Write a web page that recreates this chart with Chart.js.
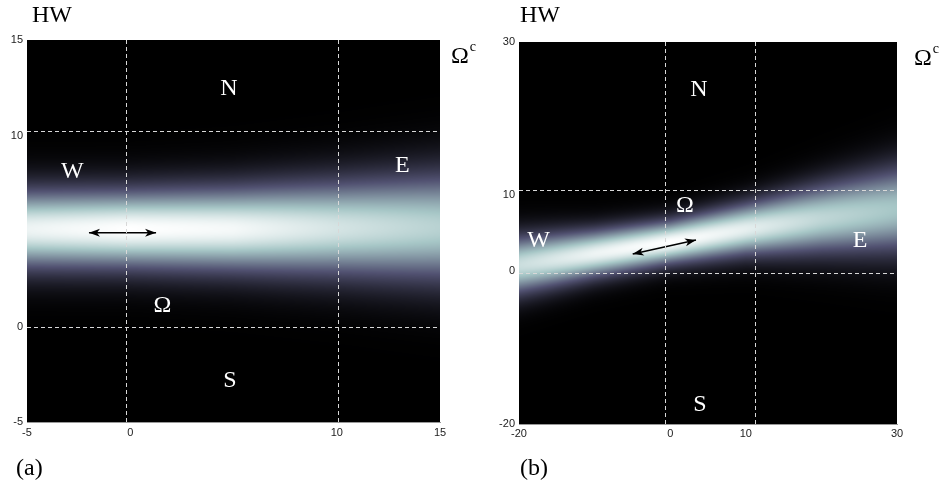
<!DOCTYPE html>
<html>
<head>
<meta charset="utf-8">
<script src="https://cdn.jsdelivr.net/npm/chart.js@4.4.1/dist/chart.umd.min.js"></script>
<style>
  body { margin: 0; background: #fff; width: 940px; height: 486px; position: relative; overflow: hidden; }
  .panel { position: absolute; top: 0; width: 470px; height: 486px; }
  .lbl { position: absolute; font-family: "Liberation Serif", "Times New Roman", serif; font-size: 24px; line-height: 24px; color: #000; white-space: nowrap; }
  .lbl sup { font-size: 14px; position: relative; top: -3px; margin-left: 1px; }
</style>
</head>
<body>
<div class="panel" style="left:0"><canvas id="chartA" width="470" height="486"></canvas></div>
<div class="panel" style="left:470px"><canvas id="chartB" width="470" height="486"></canvas></div>
<div class="lbl" style="left:32px;top:2px">HW</div>
<div class="lbl" style="left:520px;top:2px">HW</div>
<div class="lbl" style="left:451px;top:38px">Ω<sup>c</sup></div>
<div class="lbl" style="left:914px;top:40px">Ω<sup>c</sup></div>
<div class="lbl" style="left:16px;top:455px">(a)</div>
<div class="lbl" style="left:520px;top:455px">(b)</div>
<script>
// ---- panel (a) ----
const ticksA = [-5, 0, 10, 15];
const bandXA = [-5, 0, 5, 10, 15];
const bandCenterA = [5.1, 5.1, 5.1, 5.15, 5.2];
const bandWidthA = [1.45, 1.45, 1.55, 1.75, 2.0];
const bandPeakA = [0.95, 1.0, 0.97, 0.88, 0.8];
const splitXA = [-0.2, 10.05];
const splitYA = [0, 10.25];
const arrowXA = [-2.0, 1.25];
const arrowYA = [4.91, 4.91];
const regionNames = ['N', 'S', 'W', 'E', 'Ω'];
const regionXA = [4.78, 4.83, -2.8, 13.18, 1.56];
const regionYA = [12.51, -2.78, 8.14, 8.48, 1.13];

// ---- panel (b) ----
const ticksB = [-20, 0, 10, 30];
const bandXB = [-20, -10, 0, 10, 20, 30];
const bandCenterB = [0.8, 2.3, 3.8, 5.5, 6.9, 8.1];
const bandWidthB = [2.7, 2.2, 2.0, 2.4, 3.2, 4.0];
const bandPeakB = [0.85, 0.95, 1.0, 0.93, 0.82, 0.75];
const splitXB = [-0.7, 11.2];
const splitYB = [-0.25, 10.6];
const arrowXB = [-4.96, 3.41];
const arrowYB = [2.25, 4.08];
const regionXB = [3.81, 3.94, -17.4, 25.1, 1.96];
const regionYB = [23.9, -17.3, 4.08, 4.08, 8.73];

// matlab "bone" colour map
function bone(v) {
  v = Math.max(0, Math.min(1, v));
  const st = [[0, 0, 0, 0], [0.375, 0.319, 0.319, 0.444], [0.75, 0.653, 0.778, 0.778], [1, 1, 1, 1]];
  for (let i = 1; i < st.length; i++) {
    if (v <= st[i][0]) {
      const a = st[i - 1], b = st[i], t = (v - a[0]) / (b[0] - a[0]);
      return [0, 1, 2].map(k => Math.round(255 * (a[k + 1] + t * (b[k + 1] - a[k + 1]))));
    }
  }
  return [255, 255, 255];
}

function valueAt(xs, ys, x) {
  if (x <= xs[0]) return ys[0];
  for (let i = 1; i < xs.length; i++) {
    if (x <= xs[i]) {
      const t = (x - xs[i - 1]) / (xs[i] - xs[i - 1]);
      return ys[i - 1] + t * (ys[i] - ys[i - 1]);
    }
  }
  return ys[ys.length - 1];
}

function fieldPlugin(p) {
  return {
    id: 'field',
    beforeDatasetsDraw(chart) {
      const ctx = chart.ctx, a = chart.chartArea;
      const xs = chart.scales.x, ys = chart.scales.y;
      const left = Math.round(a.left), top = Math.round(a.top);
      const w = Math.round(a.right) - left, h = Math.round(a.bottom) - top;
      const img = ctx.createImageData(w, h);
      for (let i = 0; i < w; i++) {
        const xv = xs.getValueForPixel(left + i + 0.5);
        const c = valueAt(p.bandX, p.center, xv);
        const s = valueAt(p.bandX, p.width, xv);
        const pk = valueAt(p.bandX, p.peak, xv);
        for (let j = 0; j < h; j++) {
          const yv = ys.getValueForPixel(top + j + 0.5);
          const d = (yv - c) / s;
          const col = bone(pk * Math.exp(-d * d / 2));
          const k = (j * w + i) * 4;
          img.data[k] = col[0]; img.data[k + 1] = col[1]; img.data[k + 2] = col[2]; img.data[k + 3] = 255;
        }
      }
      ctx.putImageData(img, left, top);
    },
    afterDatasetsDraw(chart) {
      const ctx = chart.ctx, a = chart.chartArea;
      const xs = chart.scales.x, ys = chart.scales.y;
      ctx.save();
      // dashed region borders
      ctx.strokeStyle = '#d8d8d8';
      ctx.lineWidth = 1;
      ctx.setLineDash([4, 3]);
      p.splitX.forEach(v => {
        const x = Math.round(xs.getPixelForValue(v)) + 0.5;
        ctx.beginPath(); ctx.moveTo(x, a.top); ctx.lineTo(x, a.bottom); ctx.stroke();
      });
      p.splitY.forEach(v => {
        const y = Math.round(ys.getPixelForValue(v)) + 0.5;
        ctx.beginPath(); ctx.moveTo(a.left, y); ctx.lineTo(a.right, y); ctx.stroke();
      });
      ctx.setLineDash([]);
      // arrow heads
      const x1 = xs.getPixelForValue(p.arrowX[0]), y1 = ys.getPixelForValue(p.arrowY[0]);
      const x2 = xs.getPixelForValue(p.arrowX[1]), y2 = ys.getPixelForValue(p.arrowY[1]);
      const head = (tx, ty, ang) => {
        ctx.save();
        ctx.translate(tx, ty); ctx.rotate(ang);
        ctx.beginPath();
        ctx.moveTo(0, 0); ctx.lineTo(-11, -4); ctx.lineTo(-8, 0); ctx.lineTo(-11, 4);
        ctx.closePath();
        ctx.fillStyle = '#000'; ctx.fill();
        ctx.restore();
      };
      const ang = Math.atan2(y2 - y1, x2 - x1);
      head(x2, y2, ang);
      head(x1, y1, ang + Math.PI);
      // region names
      ctx.fillStyle = '#fff';
      ctx.font = '24px "Liberation Serif", "Times New Roman", serif';
      ctx.textAlign = 'center';
      ctx.textBaseline = 'middle';
      regionNames.forEach((n, i) => {
        ctx.fillText(n, xs.getPixelForValue(p.regionX[i]), ys.getPixelForValue(p.regionY[i]) + 1);
      });
      ctx.restore();
    }
  };
}

function makeChart(id, p) {
  const tickFont = { family: '"Liberation Sans", Arial, sans-serif', size: 11 };
  return new Chart(document.getElementById(id), {
    type: 'scatter',
    data: {
      datasets: [{
        data: p.arrowX.map((x, i) => ({ x: x, y: p.arrowY[i] })),
        showLine: true,
        borderColor: '#000',
        borderWidth: 1.5,
        pointRadius: 0
      }]
    },
    options: {
      responsive: false,
      animation: false,
      devicePixelRatio: 1,
      layout: { padding: { top: p.pad.top, right: p.pad.right, left: 0, bottom: 0 } },
      plugins: { legend: { display: false }, tooltip: { enabled: false } },
      scales: {
        x: {
          type: 'linear', min: p.range[0], max: p.range[1],
          afterBuildTicks: s => { s.ticks = p.ticks.map(v => ({ value: v })); },
          afterFit: s => { s.height = p.xh; },
          grid: { display: false, drawTicks: false },
          border: { display: true, color: '#999', width: 1 },
          ticks: { font: tickFont, color: '#222', padding: p.xpad, maxRotation: 0, autoSkip: false }
        },
        y: {
          type: 'linear', min: p.range[0], max: p.range[1],
          afterBuildTicks: s => { s.ticks = p.ticks.map(v => ({ value: v })); },
          afterFit: s => { s.width = p.yw; },
          grid: { display: false, drawTicks: false },
          border: { display: true, color: '#999', width: 1 },
          ticks: { font: tickFont, color: '#222', padding: 4, autoSkip: false }
        }
      }
    },
    plugins: [fieldPlugin(p)]
  });
}

makeChart('chartA', {
  range: [-5, 15], ticks: ticksA,
  bandX: bandXA, center: bandCenterA, width: bandWidthA, peak: bandPeakA,
  splitX: splitXA, splitY: splitYA, arrowX: arrowXA, arrowY: arrowYA,
  regionX: regionXA, regionY: regionYA,
  pad: { top: 40, right: 30 }, yw: 27, xh: 64, xpad: 4
});
makeChart('chartB', {
  range: [-20, 30], ticks: ticksB,
  bandX: bandXB, center: bandCenterB, width: bandWidthB, peak: bandPeakB,
  splitX: splitXB, splitY: splitYB, arrowX: arrowXB, arrowY: arrowYB,
  regionX: regionXB, regionY: regionYB,
  pad: { top: 42, right: 43 }, yw: 49, xh: 62, xpad: 3
});
</script>
</body>
</html>
